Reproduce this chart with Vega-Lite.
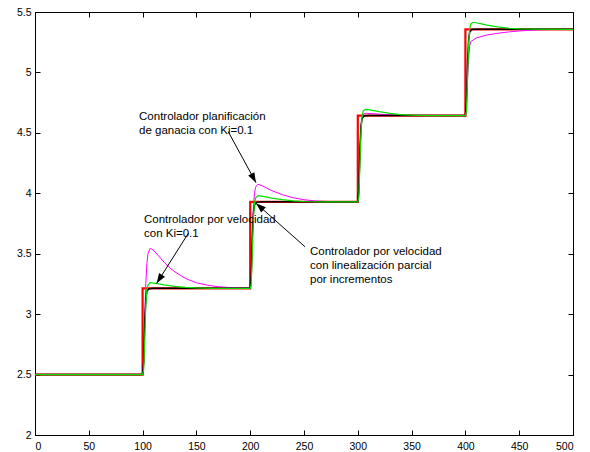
{
  "$schema": "https://vega.github.io/schema/vega-lite/v6.json",
  "width": 538,
  "height": 423,
  "autosize": "none",
  "padding": {"left": 35, "top": 12, "right": 17, "bottom": 17},
  "background": "white",
  "config": {
    "view": {"stroke": "black", "strokeWidth": 1},
    "axis": {
      "domainColor": "black", "tickColor": "black", "labelColor": "black",
      "labelFont": "Liberation Sans", "labelFontSize": 10.5, "grid": false,
      "tickSize": -5, "tickWidth": 1, "domainWidth": 1, "title": null
    },
    "text": {"font": "Liberation Sans"}
  },
  "datasets": {
    "ref": [
      {"i": 0, "x": 0, "y": 2.5}, {"i": 1, "x": 100, "y": 2.5}, {"i": 2, "x": 100, "y": 3.214},
      {"i": 3, "x": 200, "y": 3.214}, {"i": 4, "x": 200, "y": 3.929}, {"i": 5, "x": 300, "y": 3.929},
      {"i": 6, "x": 300, "y": 4.643}, {"i": 7, "x": 400, "y": 4.643}, {"i": 8, "x": 400, "y": 5.357},
      {"i": 9, "x": 500, "y": 5.357}
    ],
    "lin": [
      {"x": 0, "y": 2.5}, {"x": 100, "y": 2.5}, {"x": 101, "y": 2.6}, {"x": 102, "y": 2.95}, {"x": 103, "y": 3.12},
      {"x": 104, "y": 3.19}, {"x": 106, "y": 3.21}, {"x": 110, "y": 3.214}, {"x": 200, "y": 3.214},
      {"x": 201, "y": 3.33}, {"x": 202, "y": 3.66}, {"x": 203, "y": 3.84}, {"x": 204, "y": 3.905},
      {"x": 206, "y": 3.925}, {"x": 210, "y": 3.929}, {"x": 300, "y": 3.929}, {"x": 301, "y": 4.04},
      {"x": 302, "y": 4.38}, {"x": 303, "y": 4.56}, {"x": 304, "y": 4.62}, {"x": 306, "y": 4.64},
      {"x": 310, "y": 4.643}, {"x": 400, "y": 4.643}, {"x": 401, "y": 4.76}, {"x": 402, "y": 5.09},
      {"x": 403, "y": 5.27}, {"x": 404, "y": 5.335}, {"x": 406, "y": 5.355}, {"x": 410, "y": 5.357},
      {"x": 500, "y": 5.357}
    ],
    "vel": [
      {"x": 0, "y": 2.5}, {"x": 100, "y": 2.5}, {"x": 101, "y": 2.54}, {"x": 102, "y": 2.8}, {"x": 103, "y": 3.08},
      {"x": 104, "y": 3.2}, {"x": 105, "y": 3.24}, {"x": 107, "y": 3.26}, {"x": 110, "y": 3.257},
      {"x": 115, "y": 3.25}, {"x": 120, "y": 3.242}, {"x": 130, "y": 3.23}, {"x": 140, "y": 3.222},
      {"x": 150, "y": 3.217}, {"x": 165, "y": 3.214}, {"x": 200, "y": 3.214}, {"x": 201, "y": 3.25},
      {"x": 202, "y": 3.52}, {"x": 203, "y": 3.8}, {"x": 204, "y": 3.92}, {"x": 205, "y": 3.96},
      {"x": 207, "y": 3.98}, {"x": 210, "y": 3.977}, {"x": 215, "y": 3.97}, {"x": 220, "y": 3.96},
      {"x": 230, "y": 3.947}, {"x": 240, "y": 3.937}, {"x": 250, "y": 3.932}, {"x": 265, "y": 3.929},
      {"x": 300, "y": 3.929}, {"x": 301, "y": 3.97}, {"x": 302, "y": 4.24}, {"x": 303, "y": 4.52},
      {"x": 304, "y": 4.64}, {"x": 305, "y": 4.68}, {"x": 307, "y": 4.695}, {"x": 310, "y": 4.692},
      {"x": 315, "y": 4.684}, {"x": 320, "y": 4.675}, {"x": 330, "y": 4.661}, {"x": 340, "y": 4.651},
      {"x": 350, "y": 4.646}, {"x": 365, "y": 4.643}, {"x": 400, "y": 4.643}, {"x": 401, "y": 4.68},
      {"x": 402, "y": 4.95}, {"x": 403, "y": 5.24}, {"x": 404, "y": 5.36}, {"x": 405, "y": 5.4},
      {"x": 407, "y": 5.415}, {"x": 410, "y": 5.411}, {"x": 415, "y": 5.402}, {"x": 420, "y": 5.392},
      {"x": 430, "y": 5.377}, {"x": 440, "y": 5.367}, {"x": 450, "y": 5.361}, {"x": 465, "y": 5.358},
      {"x": 500, "y": 5.357}
    ],
    "plan": [
      {"x": 0, "y": 2.5}, {"x": 100, "y": 2.5}, {"x": 101, "y": 2.6}, {"x": 102, "y": 2.95}, {"x": 103, "y": 3.25},
      {"x": 104, "y": 3.42}, {"x": 105, "y": 3.5}, {"x": 107, "y": 3.545}, {"x": 110, "y": 3.53},
      {"x": 115, "y": 3.48}, {"x": 120, "y": 3.43}, {"x": 125, "y": 3.385}, {"x": 130, "y": 3.35},
      {"x": 140, "y": 3.295}, {"x": 150, "y": 3.26}, {"x": 160, "y": 3.24}, {"x": 170, "y": 3.227},
      {"x": 185, "y": 3.218}, {"x": 200, "y": 3.214}, {"x": 201, "y": 3.3}, {"x": 202, "y": 3.6},
      {"x": 203, "y": 3.88}, {"x": 204, "y": 4.0}, {"x": 205, "y": 4.05}, {"x": 207, "y": 4.074},
      {"x": 210, "y": 4.066}, {"x": 215, "y": 4.045}, {"x": 220, "y": 4.022}, {"x": 230, "y": 3.988},
      {"x": 240, "y": 3.963}, {"x": 250, "y": 3.947}, {"x": 260, "y": 3.937}, {"x": 275, "y": 3.931},
      {"x": 300, "y": 3.929}, {"x": 301, "y": 4.0}, {"x": 302, "y": 4.3}, {"x": 303, "y": 4.55},
      {"x": 304, "y": 4.63}, {"x": 305, "y": 4.655}, {"x": 308, "y": 4.662}, {"x": 315, "y": 4.658},
      {"x": 330, "y": 4.649}, {"x": 350, "y": 4.644}, {"x": 400, "y": 4.643}, {"x": 401, "y": 4.75},
      {"x": 402, "y": 4.95}, {"x": 403, "y": 5.12}, {"x": 404, "y": 5.22}, {"x": 405, "y": 5.255},
      {"x": 410, "y": 5.285}, {"x": 420, "y": 5.31}, {"x": 430, "y": 5.324}, {"x": 440, "y": 5.335},
      {"x": 450, "y": 5.343}, {"x": 460, "y": 5.349}, {"x": 470, "y": 5.353}, {"x": 485, "y": 5.356},
      {"x": 500, "y": 5.357}
    ],
    "notes": [
      {"x": 96.7, "y": 4.606, "label": "Controlador planificación\nde ganacia con Ki=0.1"},
      {"x": 101.3, "y": 3.754, "label": "Controlador por velocidad\ncon Ki=0.1"},
      {"x": 255.6, "y": 3.489, "label": "Controlador por velocidad\ncon linealización parcial\npor incrementos"}
    ],
    "arrows": [
      {"x": 179.6, "y": 4.51, "x2": 205.4, "y2": 4.088, "angle": 151.5},
      {"x": 142.5, "y": 3.669, "x2": 113.1, "y2": 3.255, "angle": 212.3},
      {"x": 250.9, "y": 3.558, "x2": 205.4, "y2": 3.917, "angle": 311.5}
    ]
  },
  "resolve": {"axis": {"x": "independent", "y": "independent"}},
  "layer": [
    {
      "data": {"name": "ref"},
      "mark": {"type": "line", "color": "#ff0000", "strokeWidth": 2.2},
      "encoding": {
        "x": {"field": "x", "type": "quantitative", "scale": {"domain": [0, 500], "nice": false}, "axis": {"orient": "bottom", "values": [0, 50, 100, 150, 200, 250, 300, 350, 400, 450, 500], "labelPadding": 11}},
        "y": {"field": "y", "type": "quantitative", "scale": {"domain": [2, 5.5], "nice": false, "zero": false}, "axis": {"orient": "left", "values": [2, 2.5, 3, 3.5, 4, 4.5, 5, 5.5], "labelPadding": 9, "labelExpr": "'' + datum.value"}},
        "order": {"field": "i", "type": "quantitative"}
      }
    },
    {
      "data": {"name": "plan"},
      "mark": {"type": "line", "color": "#ff00ff", "strokeWidth": 1},
      "encoding": {
        "x": {"field": "x", "type": "quantitative", "axis": null},
        "y": {"field": "y", "type": "quantitative", "axis": null}
      }
    },
    {
      "data": {"name": "lin"},
      "mark": {"type": "line", "color": "#000000", "strokeWidth": 1.5},
      "encoding": {
        "x": {"field": "x", "type": "quantitative", "axis": {"orient": "top", "labels": false, "domain": false, "values": [0, 50, 100, 150, 200, 250, 300, 350, 400, 450, 500]}},
        "y": {"field": "y", "type": "quantitative", "axis": {"orient": "right", "labels": false, "domain": false, "values": [2, 2.5, 3, 3.5, 4, 4.5, 5, 5.5]}}
      }
    },
    {
      "data": {"name": "vel"},
      "mark": {"type": "line", "color": "#00e000", "strokeWidth": 1.2},
      "encoding": {
        "x": {"field": "x", "type": "quantitative", "axis": null},
        "y": {"field": "y", "type": "quantitative", "axis": null}
      }
    },
    {
      "data": {"name": "arrows"},
      "mark": {"type": "rule", "color": "black", "strokeWidth": 1},
      "encoding": {
        "x": {"field": "x", "type": "quantitative", "axis": null},
        "y": {"field": "y", "type": "quantitative", "axis": null},
        "x2": {"field": "x2"},
        "y2": {"field": "y2"}
      }
    },
    {
      "data": {"name": "arrows"},
      "mark": {"type": "point", "filled": true, "color": "black", "opacity": 1, "shape": "M0,0L-0.35,1L0.35,1Z", "size": 400},
      "encoding": {
        "x": {"field": "x2", "type": "quantitative", "axis": null},
        "y": {"field": "y2", "type": "quantitative", "axis": null},
        "angle": {"field": "angle", "type": "quantitative", "scale": null}
      }
    },
    {
      "data": {"name": "notes"},
      "mark": {"type": "text", "align": "left", "baseline": "alphabetic", "fontSize": 11.5, "lineHeight": 14, "lineBreak": "\n", "color": "black"},
      "encoding": {
        "x": {"field": "x", "type": "quantitative", "axis": null},
        "y": {"field": "y", "type": "quantitative", "axis": null},
        "text": {"field": "label"}
      }
    }
  ]
}
